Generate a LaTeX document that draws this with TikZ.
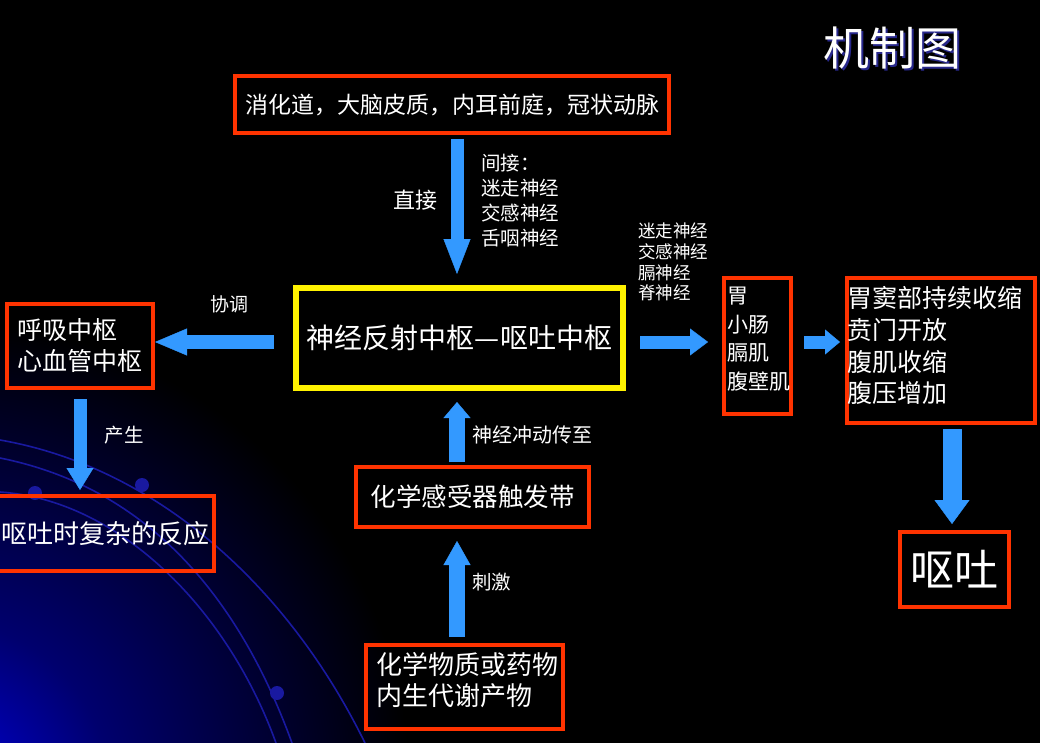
\documentclass[tikz,border=0pt]{standalone}
\usepackage{fontspec}
\setmainfont{Noto Sans CJK SC}
\usetikzlibrary{arrows.meta,calc}
\definecolor{redbox}{RGB}{255,51,0}
\definecolor{arrowblue}{RGB}{51,153,255}
\definecolor{glowblue}{RGB}{0,0,220}
\definecolor{glowmid}{RGB}{0,0,110}
\definecolor{arcblue}{RGB}{25,25,160}
\definecolor{shadowblue}{RGB}{40,40,140}
\pgfdeclareradialshading{cornerglow}{\pgfpoint{0bp}{0bp}}{color(0bp)=(glowblue);color(9bp)=(glowmid);color(25bp)=(black);color(50bp)=(black)}
\newcommand{\fsz}[2]{\fontsize{#1pt}{#2pt}\selectfont}
\begin{document}
\begin{tikzpicture}[x=1pt,y=-1pt,
  box/.style={draw=redbox,line width=4pt,inner sep=0pt,text=white},
  txt/.style={text=white,inner sep=0pt,align=left},
  bigarrow/.style n args={3}{draw=arrowblue,line width=#1,
    -{Triangle[width=#2,length=#3,line width=0.4pt]}}
]
% background
\fill[black] (0,0) rectangle (1040,743);
\useasboundingbox (0,0) rectangle (1040,743);
\begin{scope}
  \clip (0,0) rectangle (1040,743);
  \shade[shading=cornerglow] (-60,790) circle (470);
  \draw[arcblue,line width=1.6pt] (0,440) .. controls (160,468) and (290,590) .. (365,743);
  \draw[arcblue,line width=1.6pt] (0,458) .. controls (150,488) and (240,600) .. (292,743);
  \draw[arcblue,line width=1.6pt] (0,492) .. controls (120,500) and (228,610) .. (276,743);
  \fill[arcblue] (35,493) circle (7);
  \fill[arcblue] (142,485) circle (7);
  \fill[arcblue] (277,693) circle (7);
\end{scope}

% title
\node[txt,text=shadowblue,font=\fsz{46}{50}] (titleshadow) at (894,50) {机制图};
\node[txt,font=\fsz{46}{50}] (title) at (892,48) {机制图};

% boxes
\node[box,minimum width=434pt,minimum height=57pt,font=\fsz{23}{28}] (top) at (452,104.5) {消化道，大脑皮质，内耳前庭，冠状动脉};
\node[draw=yellow,line width=6pt,inner sep=0pt,text=white,minimum width=327pt,minimum height=100pt,font=\fsz{28}{34}] (center) at (459.5,338) {神经反射中枢—呕吐中枢};
\node[box,minimum width=146pt,minimum height=84pt,font=\fsz{25}{31},align=left] (resp) at (80,346) {呼吸中枢\\心血管中枢};
\node[box,minimum width=217pt,minimum height=75pt,font=\fsz{26}{31}] (react) at (105.5,533.5) {呕吐时复杂的反应};
\node[box,minimum width=233pt,minimum height=60pt,font=\fsz{25.5}{31}] (ctz) at (472.5,497) {化学感受器触发带};
\node[box,minimum width=197pt,minimum height=84pt] (chem) at (464.5,687) {};
\node[txt,anchor=west,font=\fsz{26}{31}] (chemtext) at (376,680.5) {化学物质或药物\\内生代谢产物};
\node[box,minimum width=67pt,minimum height=136pt] (organ) at (757.5,346) {};
\node[txt,anchor=west,font=\fsz{21}{28.7}] (organtext) at (727,339) {胃\\小肠\\膈肌\\腹壁肌};
\node[box,minimum width=188pt,minimum height=145pt] (effect) at (941,350.5) {};
\node[txt,anchor=west,font=\fsz{25}{31.7}] (effecttext) at (847,345.75) {胃窦部持续收缩\\贲门开放\\腹肌收缩\\腹压增加};
\node[box,minimum width=109pt,minimum height=75pt,font=\fsz{44}{50}] (vomit) at (954.5,569.5) {呕吐};

% labels
\node[txt,font=\fsz{22}{26}] (direct) at (415,200) {直接};
\node[txt,anchor=west,font=\fsz{19.5}{25}] (indirect) at (481,200.5) {间接：\\迷走神经\\交感神经\\舌咽神经};
\node[txt,font=\fsz{19}{23}] (coord) at (229,304) {协调};
\node[txt,font=\fsz{19.5}{23}] (produce) at (124,435) {产生};
\node[txt,anchor=west,font=\fsz{20}{24}] (impulse) at (472,435) {神经冲动传至};
\node[txt,anchor=west,font=\fsz{19.5}{24}] (stim) at (472,582) {刺激};
\node[txt,anchor=west,font=\fsz{17.5}{20.7}] (nerves) at (638,262) {迷走神经\\交感神经\\膈神经\\脊神经};

% arrows
\draw[bigarrow={13pt}{27pt}{35pt}] ($(top.south)+(5,4)$) -- ($(center.north)+(-2.5,-11)$);
\draw[bigarrow={14pt}{27pt}{32pt}] ($(center.west)+(-19,4)$) -- ($(resp.east)+(0,-4)$);
\draw[bigarrow={13pt}{27pt}{22pt}] ($(resp.south)+(0,9)$) -- ($(react.north)+(-25.5,-4)$);
\draw[bigarrow={16pt}{27pt}{16pt}] ($(ctz.north)+(-15.5,-3)$) -- ($(center.south)+(-2.5,11)$);
\draw[bigarrow={16pt}{27pt}{24pt}] ($(chem.north)+(-7.5,-6)$) -- ($(ctz.south)+(-15.5,12)$);
\draw[bigarrow={13pt}{27pt}{18pt}] ($(center.east)+(14,4)$) -- ($(organ.west)+(-14,-4)$);
\draw[bigarrow={13pt}{25pt}{15pt}] ($(organ.east)+(11,-4)$) -- ($(effect.west)+(-5,-8.5)$);
\draw[bigarrow={19pt}{35pt}{24pt}] ($(effect.south)+(11,4)$) -- ($(vomit.north)+(-2.5,-6)$);
\end{tikzpicture}
\end{document}
